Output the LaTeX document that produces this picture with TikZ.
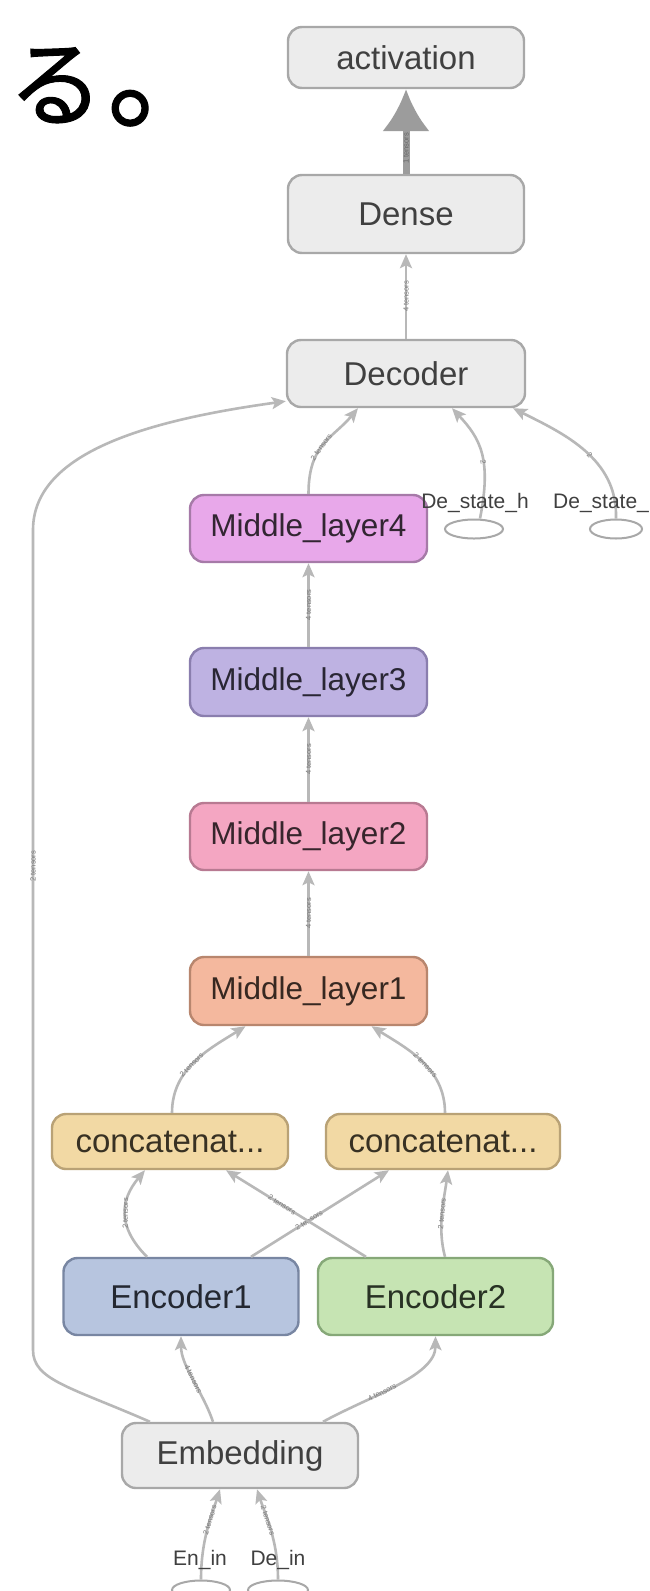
\documentclass[tikz,border=0pt]{standalone}
\usepackage{fontspec}
\setmainfont{Liberation Sans}
\newfontfamily\cjkfont{Noto Sans CJK JP}[FakeBold=1]
\usetikzlibrary{arrows.meta,shapes.geometric}
\definecolor{gfill}{HTML}{ECECEC}
\definecolor{gline}{HTML}{A8A8A8}
\definecolor{txt}{HTML}{404040}
\definecolor{edgegray}{HTML}{B8B8B8}
\definecolor{lblgray}{HTML}{7A7A7A}
\definecolor{mlfourfill}{HTML}{E8A8EA}
\definecolor{mlfourline}{HTML}{A67AA8}
\definecolor{mlthreefill}{HTML}{BEB2E2}
\definecolor{mlthreeline}{HTML}{8A7EAE}
\definecolor{mltwofill}{HTML}{F4A6C2}
\definecolor{mltwoline}{HTML}{B87A92}
\definecolor{mlonefill}{HTML}{F4B89E}
\definecolor{mloneline}{HTML}{B8866E}
\definecolor{catfill}{HTML}{F2D9A4}
\definecolor{catline}{HTML}{B9A276}
\definecolor{encafill}{HTML}{B7C5DF}
\definecolor{encaline}{HTML}{7886A2}
\definecolor{encbfill}{HTML}{C6E4B3}
\definecolor{encbline}{HTML}{86A878}
\begin{document}
\begin{tikzpicture}[x=1pt,y=-1pt,
  box/.style={rounded corners=14pt,line width=2.4pt,minimum width=236pt,inner sep=0pt,font=\fontsize{33}{33}\selectfont,text=txt},
  gnode/.style={box,fill=gfill,draw=gline},
  mlnode/.style={box,minimum width=237pt,minimum height=67pt,font=\fontsize{31.5}{31.5}\selectfont},
  catnode/.style={box,fill=catfill,draw=catline,minimum height=55pt},
  encnode/.style={box,minimum width=235pt,minimum height=77pt},
  port/.style={ellipse,draw=gline,line width=2pt,fill=white,inner sep=0pt,minimum width=58pt,minimum height=19pt},
  smlabel/.style={font=\fontsize{21}{21}\selectfont,text=txt,inner sep=0pt},
  conn/.style={draw=edgegray,line width=2.6pt,-{Stealth[length=14pt,width=12pt,inset=3pt]}},
  lbl/.style={sloped,font=\fontsize{7.5}{7.5}\selectfont,text=lblgray,inner sep=0.5pt}
]
\clip (0,0) rectangle (649,1591);
\fill[white] (0,0) rectangle (649,1591);

% Japanese text
\node[anchor=base west,inner sep=0pt,font=\cjkfont\fontsize{95}{95}\selectfont] (jp) at (8,119) {る\kern4pt{\fontsize{118}{118}\selectfont 。}};

% nodes
\node[gnode,minimum height=61pt] (act) at (406,57.5) {activation};
\node[gnode,minimum height=78pt] (dense) at (406,214) {Dense};
\node[gnode,minimum height=67pt,minimum width=238pt] (dec) at (406,373.5) {Decoder};
\node[mlnode,fill=mlfourfill,draw=mlfourline,text=black!70!mlfourline] (ml4) at (308.5,528.5) {Middle\_layer4};
\node[mlnode,fill=mlthreefill,draw=mlthreeline,text=black!70!mlthreeline,minimum height=68pt] (ml3) at (308.5,682) {Middle\_layer3};
\node[mlnode,fill=mltwofill,draw=mltwoline,text=black!70!mltwoline] (ml2) at (308.5,836.5) {Middle\_layer2};
\node[mlnode,fill=mlonefill,draw=mloneline,text=black!70!mloneline,minimum height=68pt] (ml1) at (308.5,991) {Middle\_layer1};
\node[catnode,text=black!70!catline] (catL) at (170,1141.5) {concatenat...};
\node[catnode,text=black!70!catline,minimum width=234pt] (catR) at (443,1141.5) {concatenat...};
\node[encnode,fill=encafill,draw=encaline,text=black!70!encaline] (enc1) at (181,1296.5) {Encoder1};
\node[encnode,fill=encbfill,draw=encbline,text=black!70!encbline] (enc2) at (435.5,1296.5) {Encoder2};
\node[gnode,minimum height=65pt] (emb) at (240,1455.5) {Embedding};

% input ports
\node[port] (dsh) at (474,529) {};
\node[port,minimum width=52pt] (dsc) at (616,529) {};
\node[port] (enin) at (201,1590) {};
\node[port,minimum width=60pt] (dein) at (278,1590) {};

% edges
\draw[draw=edgegray!85!black,line width=7pt,-{Latex[length=42pt,width=48pt]}] (dense.north) -- node[lbl,pos=0.3,text=black!60]{1 tensors} (act.south);
\draw[conn] (dec.north) -- node[lbl]{4 tensors} (dense.south);
\draw[conn] (ml4.north) .. controls +(0,-50) and +(-25,30) .. node[lbl,pos=0.45]{2 tensors} ([xshift=-48pt]dec.south);
\draw[conn] ([xshift=6pt]dsh.north) .. controls +(12,-60) and +(28,30) .. node[lbl,pos=0.4]{2} ([xshift=46pt]dec.south);
\draw[conn] (dsc.north) .. controls +(2,-60) and +(50,25) .. node[lbl,pos=0.45]{2} ([xshift=107pt]dec.south);
\draw[conn] (ml3.north) -- node[lbl]{4 tensors} (ml4.south);
\draw[conn] (ml2.north) -- node[lbl]{4 tensors} (ml3.south);
\draw[conn] (ml1.north) -- node[lbl]{4 tensors} (ml2.south);
\draw[conn] ([xshift=2pt]catL.north) .. controls +(0,-45) and +(-35,22) .. node[lbl,pos=0.45]{2 tensors} ([xshift=-63pt]ml1.south);
\draw[conn] ([xshift=2pt]catR.north) .. controls +(0,-45) and +(35,22) .. node[lbl,pos=0.45]{2 tensors} ([xshift=63pt]ml1.south);
\draw[conn] ([xshift=-34pt]enc1.north) .. controls +(-30,-30) and +(-25,30) .. node[lbl]{2 tensors} ([xshift=-25pt]catL.south);
\draw[conn] ([xshift=70pt]enc1.north) -- node[lbl,pos=0.42]{2 tensors} ([xshift=-54pt]catR.south);
\draw[conn] ([xshift=-69.5pt]enc2.north) -- node[lbl,pos=0.6]{2 tensors} ([xshift=56pt]catL.south);
\draw[conn] ([xshift=9.5pt]enc2.north) .. controls +(-8,-30) and +(-4,30) .. node[lbl]{2 tensors} ([xshift=5pt]catR.south);
\draw[conn] ([xshift=-27pt]emb.north) .. controls +(-10,-30) and +(0,30) .. node[lbl]{4 tensors} (enc1.south);
\draw[conn] ([xshift=83pt]emb.north) .. controls +(45,-25) and +(0,40) .. node[lbl,pos=0.4]{4 tensors} (enc2.south);
\draw[conn] (enin.north) .. controls +(0,-40) and +(-8,25) .. node[lbl,pos=0.6]{2 tensors} ([xshift=-20pt]emb.south);
\draw[conn] (dein.north) .. controls +(0,-40) and +(8,25) .. node[lbl,pos=0.6]{2 tensors} ([xshift=17pt]emb.south);

% long skip edge
\coordinate (lt) at (33,1350);
\coordinate (lb) at (33,530);
\draw[conn] ([xshift=-90pt]emb.north) .. controls +(-80,-35) and +(0,30) .. (lt) -- node[lbl,pos=0.59]{2 tensors} (lb) .. controls +(0,-80) and +(-130,18) .. ([yshift=7pt]dec.south west);

% port labels
\node[smlabel] (enl) at (200,1560) {En\_in};
\node[smlabel] (del) at (278,1560) {De\_in};
\node[smlabel] (dshl) at (475,503) {De\_state\_h};
\node[smlabel,anchor=west] (dscl) at (553,503) {De\_state\_};
\end{tikzpicture}
\end{document}
